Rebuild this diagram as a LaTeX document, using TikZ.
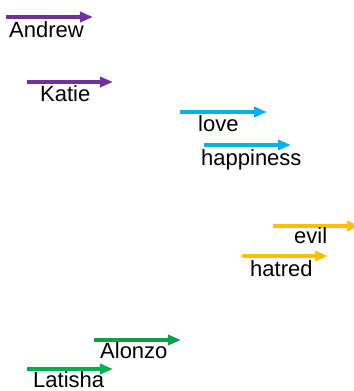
\documentclass[tikz,border=0pt]{standalone}
\usepackage{fontspec}
\setmainfont{Liberation Sans}
\usetikzlibrary{arrows.meta}
\definecolor{purp}{HTML}{7030A0}
\definecolor{sky}{HTML}{00B0F0}
\definecolor{gold}{HTML}{FFC000}
\definecolor{grn}{HTML}{00B050}
\definecolor{dgrn}{HTML}{10A04C}
\tikzset{
  vec/.style={line width=3.5bp, -{Triangle[length=13bp,width=10bp]}},
  word/.style={anchor=base west, inner sep=0pt, font=\fontsize{22bp}{25bp}\selectfont}
}
\begin{document}
\begin{tikzpicture}[x=1bp, y=-1bp]
            \useasboundingbox (0,0) rectangle (354,391);
            % names
            \coordinate (andrew) at (6,17);
            \coordinate (katie) at (27,82);
            \coordinate (alonzo) at (94,340);
            \coordinate (latisha) at (27,369);
            % feelings
            \coordinate (love) at (180,112);
            \coordinate (happiness) at (204,145);
            \coordinate (evil) at (273,226);
            \coordinate (hatred) at (242,256);
            \draw[vec, purp] (andrew) -- ++(87,0);
            \draw[vec, purp] (katie) -- ++(86,0);
            \draw[vec, sky] (love) -- ++(87,0);
            \draw[vec, sky] (happiness) -- ++(87,0);
            \draw[vec, gold] (evil) -- ++(87,0);
            \draw[vec, gold] (hatred) -- ++(86,0);
            \draw[vec, dgrn] (alonzo) -- ++(87,0);
            \draw[vec, grn] (latisha) -- ++(86,0);
            \node[word] (tandrew) at (9,37) {Andrew};
            \node[word] (tkatie) at (40,101) {Katie};
            \node[word] (tlove) at (198,131) {love};
            \node[word] (thappiness) at (201,165) {happiness};
            \node[word] (tevil) at (294,243) {evil};
            \node[word] (thatred) at (250,276) {hatred};
            \node[word] (talonzo) at (100,358) {Alonzo};
            \node[word] (tlatisha) at (33,387.5) {Latisha};
        \end{tikzpicture}
\end{document}
